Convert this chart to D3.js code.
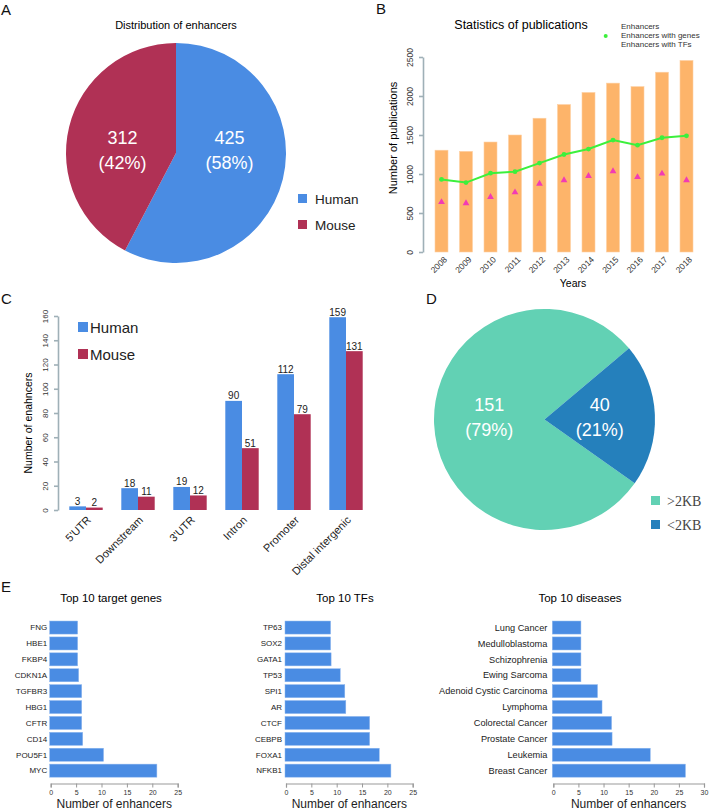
<!DOCTYPE html>
<html>
<head>
<meta charset="utf-8">
<script src="https://cdn.jsdelivr.net/npm/d3@7"></script>
<style>
  body { margin: 0; background: #fff; }
  svg { display: block; font-family: "Liberation Sans", Arial, sans-serif; }
</style>
</head>
<body>
<svg id="fig" width="710" height="811"></svg>
<script>
// panel A
const species = ['Human', 'Mouse'];
const speciesCounts = [425, 312];

// panel B
const years = ['2008', '2009', '2010', '2011', '2012', '2013', '2014', '2015', '2016', '2017', '2018'];
const pubEnhancers = [1305, 1290, 1410, 1500, 1715, 1890, 2045, 2165, 2120, 2305, 2455];
const pubWithGenes = [930, 890, 1010, 1030, 1140, 1250, 1320, 1435, 1370, 1465, 1490];
const pubWithTFs = [640, 625, 705, 765, 875, 920, 975, 1035, 960, 1005, 920];
const pubTicks = [0, 500, 1000, 1500, 2000, 2500];
const pubLegend = ['Enhancers', 'Enhancers with genes', 'Enhancers with TFs'];

// panel C
const regions = ["5'UTR", 'Downstream', "3'UTR", 'Intron', 'Promoter', 'Distal intergenic'];
const regionHuman = [3, 18, 19, 90, 112, 159];
const regionMouse = [2, 11, 12, 51, 79, 131];
const regionTicks = [0, 20, 40, 60, 80, 100, 120, 140, 160];

// panel D
const lengthClasses = ['>2KB', '<2KB'];
const lengthCounts = [151, 40];

// panel E
const geneNames = ['FNG', 'HBE1', 'FKBP4', 'CDKN1A', 'TGFBR3', 'HBG1', 'CFTR', 'CD14', 'POU5F1', 'MYC'];
const geneValues = [5.3, 5.3, 5.3, 5.5, 6.1, 6.1, 6.1, 6.3, 10.4, 20.9];
const geneTicks = [0, 5, 10, 15, 20, 25];
const tfNames = ['TP63', 'SOX2', 'GATA1', 'TP53', 'SPI1', 'AR', 'CTCF', 'CEBPB', 'FOXA1', 'NFKB1'];
const tfValues = [8.8, 8.8, 8.9, 10.7, 11.6, 11.8, 16.5, 16.5, 18.4, 20.7];
const tfTicks = [0, 5, 10, 15, 20, 25];
const diseaseNames = ['Lung Cancer', 'Medulloblastoma', 'Schizophrenia', 'Ewing Sarcoma', 'Adenoid Cystic Carcinoma',
  'Lymphoma', 'Colorectal Cancer', 'Prostate Cancer', 'Leukemia', 'Breast Cancer'];
const diseaseValues = [5.5, 5.5, 5.5, 5.5, 8.8, 9.7, 11.6, 11.7, 19.3, 26.3];
const diseaseTicks = [0, 5, 10, 15, 20, 25, 30];

const blue = '#4a8ce3';
const red = '#b03155';
const axisGrey = '#9fb0b7';

const svg = d3.select('#fig');

const letter = (t, x, y) => svg.append('text')
  .attr('x', x).attr('y', y)
  .attr('font-size', 15)
  .attr('fill', '#111')
  .text(t);

letter('A', 1, 15);
letter('B', 376, 14);
letter('C', 1, 304);
letter('D', 426, 304);
letter('E', 1, 592);

// ---------- A: pie ----------
function drawPie(cx, cy, r, values, colors, startAngle) {
  const total = d3.sum(values);
  const pie = d3.pie().sort(null).startAngle(startAngle).endAngle(startAngle + 2 * Math.PI);
  const arcs = pie(values);
  const arc = d3.arc().innerRadius(0).outerRadius(r);
  const labelArc = d3.arc().innerRadius(r * 0.5).outerRadius(r * 0.5);
  const g = svg.append('g').attr('transform', `translate(${cx},${cy})`);
  g.selectAll('path')
    .data(arcs)
    .join('path')
    .attr('d', arc)
    .attr('fill', (d, i) => colors[i]);
  const lab = g.selectAll('g.lab')
    .data(arcs)
    .join('g')
    .attr('class', 'lab')
    .attr('transform', d => `translate(${labelArc.centroid(d)[0]},0)`)
    .attr('fill', '#fff')
    .attr('font-size', 18)
    .attr('text-anchor', 'middle');
  lab.append('text').attr('y', -9).text(d => d.value);
  lab.append('text').attr('y', 16).text(d => `(${Math.round(d.value / total * 100)}%)`);
}

svg.append('text')
  .attr('x', 176).attr('y', 29)
  .attr('text-anchor', 'middle')
  .attr('font-size', 11)
  .text('Distribution of enhancers');

drawPie(176, 153, 110, speciesCounts, [blue, red], 0);

const legA = svg.append('g')
  .selectAll('g')
  .data(species)
  .join('g')
  .attr('transform', (d, i) => `translate(298,${194 + i * 26})`);
legA.append('rect').attr('width', 9).attr('height', 9).attr('fill', (d, i) => [blue, red][i]);
legA.append('text').attr('x', 17).attr('y', 9.5).attr('font-size', 13.5).attr('fill', '#222').text(d => d);

// ---------- B: publications ----------
{
  const x = d3.scalePoint().domain(years).range([441.5, 686.5]);
  const y = d3.scaleLinear().domain([0, 2500]).range([252, 57]);
  const bw = 13;

  svg.append('text')
    .attr('x', 521).attr('y', 29)
    .attr('text-anchor', 'middle')
    .attr('font-size', 12.5)
    .text('Statistics of publications');

  svg.append('g')
    .selectAll('rect')
    .data(pubEnhancers)
    .join('rect')
    .attr('x', (d, i) => x(years[i]) - bw / 2)
    .attr('y', d => y(d))
    .attr('width', bw)
    .attr('height', d => y(0) - y(d))
    .attr('fill', '#fdb46a')
    .attr('stroke', '#fdd0a3')
    .attr('stroke-width', 0.6);

  svg.append('path')
    .datum(pubWithGenes)
    .attr('fill', 'none')
    .attr('stroke', '#3cf03c')
    .attr('stroke-width', 2)
    .attr('d', d3.line().x((d, i) => x(years[i])).y(d => y(d)));

  svg.append('g')
    .selectAll('circle')
    .data(pubWithGenes)
    .join('circle')
    .attr('cx', (d, i) => x(years[i]))
    .attr('cy', d => y(d))
    .attr('r', 2.4)
    .attr('fill', '#3cf03c');

  svg.append('g')
    .selectAll('path')
    .data(pubWithTFs)
    .join('path')
    .attr('transform', (d, i) => `translate(${x(years[i])},${y(d)})`)
    .attr('d', d3.symbol(d3.symbolTriangle, 20))
    .attr('fill', '#f23bb4');

  const yAxis = svg.append('g')
    .attr('transform', 'translate(423,0)')
    .call(d3.axisLeft(y).tickValues(pubTicks).tickFormat(d3.format('d')).tickSize(4).tickSizeOuter(0));
  yAxis.select('.domain').attr('stroke', axisGrey).attr('stroke-width', 1.6);
  yAxis.selectAll('line').attr('stroke', axisGrey).attr('stroke-width', 1.6);
  yAxis.selectAll('text')
    .attr('x', 0).attr('dy', 0)
    .attr('transform', 'translate(-10,0) rotate(-90)')
    .attr('text-anchor', 'middle')
    .attr('font-family', '"Liberation Sans", Arial, sans-serif')
    .attr('font-size', 8.5)
    .attr('fill', '#333');

  svg.append('g')
    .selectAll('text')
    .data(years)
    .join('text')
    .attr('transform', d => `translate(${x(d) + 4},258) rotate(-45)`)
    .attr('dy', '0.35em')
    .attr('text-anchor', 'end')
    .attr('font-size', 8.5)
    .attr('fill', '#333')
    .text(d => d);

  svg.append('text')
    .attr('x', 573).attr('y', 287)
    .attr('text-anchor', 'middle')
    .attr('font-size', 10.5)
    .text('Years');

  svg.append('text')
    .attr('transform', 'translate(397,138) rotate(-90)')
    .attr('text-anchor', 'middle')
    .attr('font-size', 11)
    .text('Number of publications');

  svg.append('g')
    .attr('font-size', 8)
    .attr('fill', '#333')
    .selectAll('text')
    .data(pubLegend)
    .join('text')
    .attr('x', 621)
    .attr('y', (d, i) => 29 + i * 9)
    .text(d => d);
  svg.append('circle').attr('cx', 605.7).attr('cy', 36).attr('r', 2).attr('fill', '#3cf03c');
}

// ---------- C: genomic regions ----------
{
  const x = d3.scalePoint().domain(regions).range([86, 346]);
  const y = d3.scaleLinear().domain([0, 160]).range([510, 316]);
  const bw = 16.7;
  const series = [
    { values: regionHuman, color: blue, off: -bw },
    { values: regionMouse, color: red, off: 0 }
  ];

  series.forEach(s => {
    const g = svg.append('g');
    g.selectAll('rect')
      .data(s.values)
      .join('rect')
      .attr('x', (d, i) => x(regions[i]) + s.off)
      .attr('y', d => y(d))
      .attr('width', bw)
      .attr('height', d => y(0) - y(d))
      .attr('fill', s.color);
    g.selectAll('text')
      .data(s.values)
      .join('text')
      .attr('x', (d, i) => x(regions[i]) + s.off + bw / 2)
      .attr('y', d => y(d) - 1.5)
      .attr('text-anchor', 'middle')
      .attr('font-size', 10)
      .attr('fill', '#222')
      .text(d => d);
  });

  const yAxis = svg.append('g')
    .attr('transform', 'translate(58,0)')
    .call(d3.axisLeft(y).tickValues(regionTicks).tickSize(4).tickSizeOuter(0));
  yAxis.select('.domain').attr('stroke', axisGrey).attr('stroke-width', 1.6);
  yAxis.selectAll('line').attr('stroke', axisGrey).attr('stroke-width', 1.6);
  yAxis.selectAll('text')
    .attr('x', 0).attr('dy', 0)
    .attr('transform', 'translate(-10,0) rotate(-90)')
    .attr('text-anchor', 'middle')
    .attr('font-family', '"Liberation Sans", Arial, sans-serif')
    .attr('font-size', 8)
    .attr('fill', '#333');

  svg.append('g')
    .selectAll('text')
    .data(regions)
    .join('text')
    .attr('transform', d => `translate(${x(d) + 3},518) rotate(-45)`)
    .attr('dy', '0.35em')
    .attr('text-anchor', 'end')
    .attr('font-size', 11)
    .attr('fill', '#222')
    .text(d => d);

  svg.append('text')
    .attr('transform', 'translate(32,423) rotate(-90)')
    .attr('text-anchor', 'middle')
    .attr('font-size', 10.5)
    .text('Number of enahncers');

  const legC = svg.append('g')
    .selectAll('g')
    .data(species)
    .join('g')
    .attr('transform', (d, i) => `translate(78,${322 + i * 27})`);
  legC.append('rect').attr('width', 10).attr('height', 10).attr('fill', (d, i) => [blue, red][i]);
  legC.append('text').attr('x', 12).attr('y', 10.5).attr('font-size', 15).attr('fill', '#222').text(d => d);
}

// ---------- D: enhancer length ----------
const teal = '#62d1b4';
const steel = '#2580bc';
drawPie(544.5, 419.5, 110.5, lengthCounts, [teal, steel], 2.187);

const legD = svg.append('g')
  .selectAll('g')
  .data(lengthClasses)
  .join('g')
  .attr('transform', (d, i) => `translate(651,${496 + i * 24})`);
legD.append('rect').attr('width', 9).attr('height', 9).attr('fill', (d, i) => [teal, steel][i]);
legD.append('text')
  .attr('x', 16).attr('y', 9.5)
  .attr('font-family', '"Liberation Serif", "Times New Roman", serif')
  .attr('font-size', 14)
  .attr('fill', '#444')
  .text(d => d);

// ---------- E: top 10 bar charts ----------
function topTen(title, names, values, ticks, x0, x1, labelSize, labelGap, titleX) {
  const x = d3.scaleLinear().domain([0, d3.max(ticks)]).range([x0, x1]);
  const y = d3.scaleBand().domain(names).range([619.6, 778.6]).paddingInner(0.18).paddingOuter(0.09);

  svg.append('text')
    .attr('x', titleX).attr('y', 602)
    .attr('text-anchor', 'middle')
    .attr('font-size', 11.5)
    .text(title);

  svg.append('g')
    .selectAll('rect')
    .data(values)
    .join('rect')
    .attr('x', x(0) - 1)
    .attr('y', (d, i) => y(names[i]))
    .attr('width', d => x(d) - x(0) + 1)
    .attr('height', y.bandwidth())
    .attr('fill', blue)
    .attr('stroke', '#8db6ee')
    .attr('stroke-width', 0.5);

  svg.append('g')
    .selectAll('text')
    .data(names)
    .join('text')
    .attr('x', x(0) - labelGap)
    .attr('y', d => y(d) + y.bandwidth() / 2)
    .attr('dy', '0.35em')
    .attr('text-anchor', 'end')
    .attr('font-size', labelSize)
    .attr('fill', '#222')
    .text(d => d);

  const ax = svg.append('g')
    .attr('transform', 'translate(0,783.5)')
    .call(d3.axisBottom(x).tickValues(ticks).tickSize(4).tickSizeOuter(4));
  ax.select('.domain').attr('stroke', '#999').attr('stroke-width', 1.2);
  ax.selectAll('line').attr('stroke', '#999');
  ax.selectAll('text')
    .attr('y', 7)
    .attr('font-family', '"Liberation Sans", Arial, sans-serif')
    .attr('font-size', 7)
    .attr('fill', '#333');

  svg.append('text')
    .attr('x', (x0 + x1) / 2).attr('y', 807.5)
    .attr('text-anchor', 'middle')
    .attr('font-size', 12)
    .attr('fill', '#222')
    .text('Number of enhancers');
}

topTen('Top 10 target genes', geneNames, geneValues, geneTicks, 50.7, 177.7, 8, 3.5, 111);
topTen('Top 10 TFs', tfNames, tfValues, tfTicks, 286, 412.7, 8, 4, 345);
topTen('Top 10 diseases', diseaseNames, diseaseValues, diseaseTicks, 553.3, 704, 9.2, 6, 580);
</script>
</body>
</html>
